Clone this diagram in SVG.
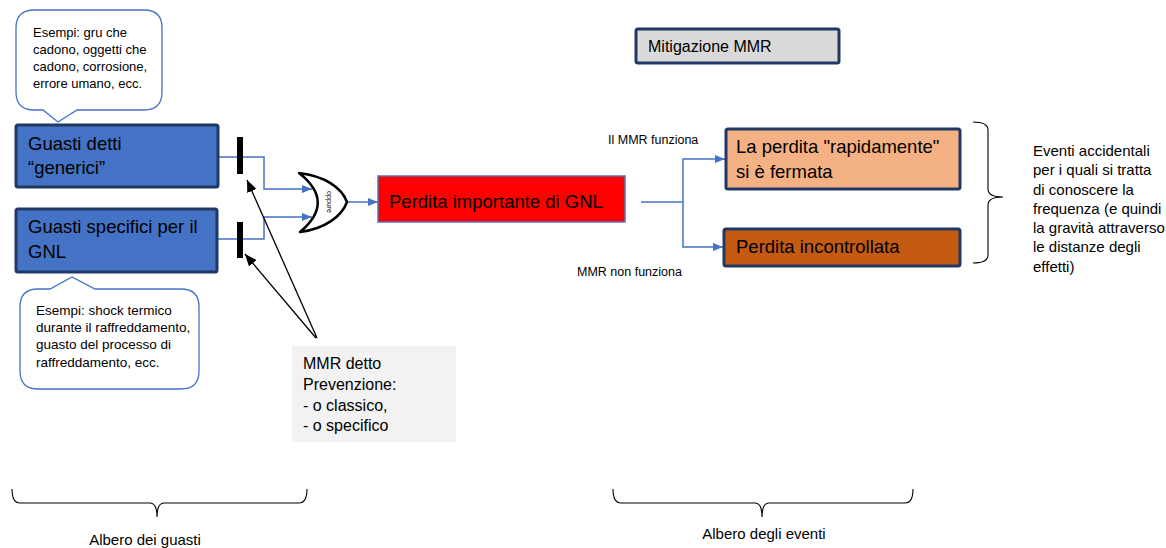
<svg xmlns="http://www.w3.org/2000/svg" width="1166" height="548" viewBox="0 0 1166 548">
<style>
text{font-family:"Liberation Sans",Arial,sans-serif;fill:#000}
.big{font-size:18.5px}
.med{font-size:16px}
.sm{font-size:13px}
.sm2{font-size:13.5px}
.lbl{font-size:12.5px}
.side{font-size:15px}
.bot{font-size:15px}
.call{fill:#fff;stroke:#4472C4;stroke-width:1.3}
.dark{stroke:#203864;stroke-width:3}
.blue{fill:none;stroke:#4472C4;stroke-width:1.5}
.blk{fill:none;stroke:#000;stroke-width:1.3}
.brace{fill:none;stroke:#000;stroke-width:1.1}
</style>
<defs>
<marker id="ab" markerUnits="userSpaceOnUse" markerWidth="10" markerHeight="10" viewBox="0 0 10 10" refX="10" refY="5" orient="auto"><path d="M0,1 L10,5 L0,9 Z" fill="#4472C4"/></marker>
<marker id="ak" markerUnits="userSpaceOnUse" markerWidth="12" markerHeight="10" viewBox="0 0 12 10" refX="12" refY="5" orient="auto"><path d="M0,0 L12,5 L0,10 Z" fill="#000"/></marker>
</defs>
<rect width="1166" height="548" fill="#fff"/>

<g id="connectors">
<path class="blue" d="M218,157 H264 V189 H312" marker-end="url(#ab)"/>
<path class="blue" d="M217,239 H264 V217 H312" marker-end="url(#ab)"/>
<path class="blue" d="M347,202 H378" marker-end="url(#ab)"/>
<path class="blue" d="M641,202 H683"/>
<path class="blue" d="M683,202 V159 H725" marker-end="url(#ab)"/>
<path class="blue" d="M683,202 V247 H723" marker-end="url(#ab)"/>
<line class="blk" x1="317" y1="338" x2="247" y2="180" marker-end="url(#ak)"/>
<line class="blk" x1="316" y1="338" x2="245" y2="254" marker-end="url(#ak)"/>
</g>

<g id="callout-generici">
<path class="call" d="M34,10 H144 Q162,10 162,28 V92 Q162,110 144,110 H77 L58,122 L43,110 H34 Q16,110 16,92 V28 Q16,10 34,10 Z"/>
<text class="sm" x="33" y="37">Esempi: gru che</text>
<text class="sm" x="33" y="54">cadono, oggetti  che</text>
<text class="sm" x="33" y="71">cadono, corrosione,</text>
<text class="sm" x="33" y="88">errore umano, ecc.</text>
</g>

<g id="node-generici">
<rect class="dark" x="16" y="125" width="202" height="62" rx="2" fill="#4472C4"/>
<text class="big" x="28" y="150">Guasti detti</text>
<text class="big" x="28" y="174">“generici”</text>
</g>

<g id="node-specifici">
<rect class="dark" x="16" y="209" width="201" height="63" rx="2" fill="#4472C4"/>
<text class="big" x="28" y="233">Guasti specifici per il</text>
<text class="big" x="28" y="258">GNL</text>
</g>

<g id="callout-specifici">
<path class="call" d="M38,289 H50 L72,277 L95,289 H181 Q199,289 199,307 V371 Q199,389 181,389 H38 Q20,389 20,371 V307 Q20,289 38,289 Z"/>
<text class="sm2" x="36" y="315">Esempi: shock termico</text>
<text class="sm2" x="36" y="332">durante il raffreddamento,</text>
<text class="sm2" x="36" y="349">guasto del processo di</text>
<text class="sm2" x="36" y="367">raffreddamento, ecc.</text>
</g>

<g id="barrier-1"><rect x="237" y="137" width="6" height="37" fill="#000"/></g>
<g id="barrier-2"><rect x="237" y="222" width="6" height="36" fill="#000"/></g>

<g id="or-gate">
<path d="M299,173 C325,176 342,188 347,202 C342,216 325,229 300,232 Q336,202 299,173 Z" fill="#fff" stroke="#000" stroke-width="2.5" stroke-linejoin="round"/>
<text x="329" y="202" font-size="7" text-anchor="middle" dominant-baseline="central" transform="rotate(90 329 202)">oppure</text>
</g>

<g id="node-perdita">
<rect x="378" y="176" width="247" height="46" fill="#FF0000" stroke="#5B6FB5" stroke-width="1.5"/>
<text class="big" x="389" y="208">Perdita importante di GNL</text>
</g>

<g id="node-mmr-prevenzione">
<rect x="292" y="346" width="164" height="96" fill="#F2F2F2"/>
<text class="med" x="303" y="369">MMR detto</text>
<text class="med" x="303" y="390">Prevenzione:</text>
<text class="med" x="303" y="411">- o classico,</text>
<text class="med" x="303" y="431">- o specifico</text>
</g>

<g id="node-mitigazione">
<rect class="dark" x="636" y="29" width="203" height="34" rx="2" fill="#D9D9D9"/>
<text class="med" x="648" y="52">Mitigazione MMR</text>
</g>

<g id="label-funziona"><text class="lbl" x="608" y="144">Il MMR funziona</text></g>
<g id="label-non-funziona"><text class="lbl" x="577" y="276">MMR non funziona</text></g>

<g id="node-fermata">
<rect class="dark" x="726" y="129" width="234" height="60" rx="2" fill="#F4B183"/>
<text class="big" x="736" y="153">La perdita "rapidamente"</text>
<text class="big" x="736" y="178">si è fermata</text>
</g>

<g id="node-incontrollata">
<rect class="dark" x="724" y="229" width="236" height="37" rx="2" fill="#C55A11"/>
<text class="big" x="736" y="253">Perdita incontrollata</text>
</g>

<g id="brace-right">
<path class="brace" d="M973,122 Q988,122 988,130 V189 Q988,197 1003,197 Q988,197 988,205 V255 Q988,263 973,263"/>
<text class="side" x="1033" y="156">Eventi accidentali</text>
<text class="side" x="1033" y="175">per i quali si tratta</text>
<text class="side" x="1033" y="195">di conoscere la</text>
<text class="side" x="1033" y="214">frequenza (e quindi</text>
<text class="side" x="1033" y="233">la gravità attraverso</text>
<text class="side" x="1033" y="252">le distanze degli</text>
<text class="side" x="1033" y="272">effetti)</text>
</g>

<g id="brace-guasti">
<path class="brace" d="M12,489 Q12,503 20,503 H150 Q157,503 157,517 Q157,503 164,503 H299 Q307,503 307,489"/>
<text class="bot" x="145" y="545" text-anchor="middle">Albero dei guasti</text>
</g>

<g id="brace-eventi">
<path class="brace" d="M613,489 Q613,503 621,503 H755 Q762,503 762,517 Q762,503 769,503 H905 Q913,503 913,489"/>
<text class="bot" x="764" y="539" text-anchor="middle">Albero degli eventi</text>
</g>
</svg>
